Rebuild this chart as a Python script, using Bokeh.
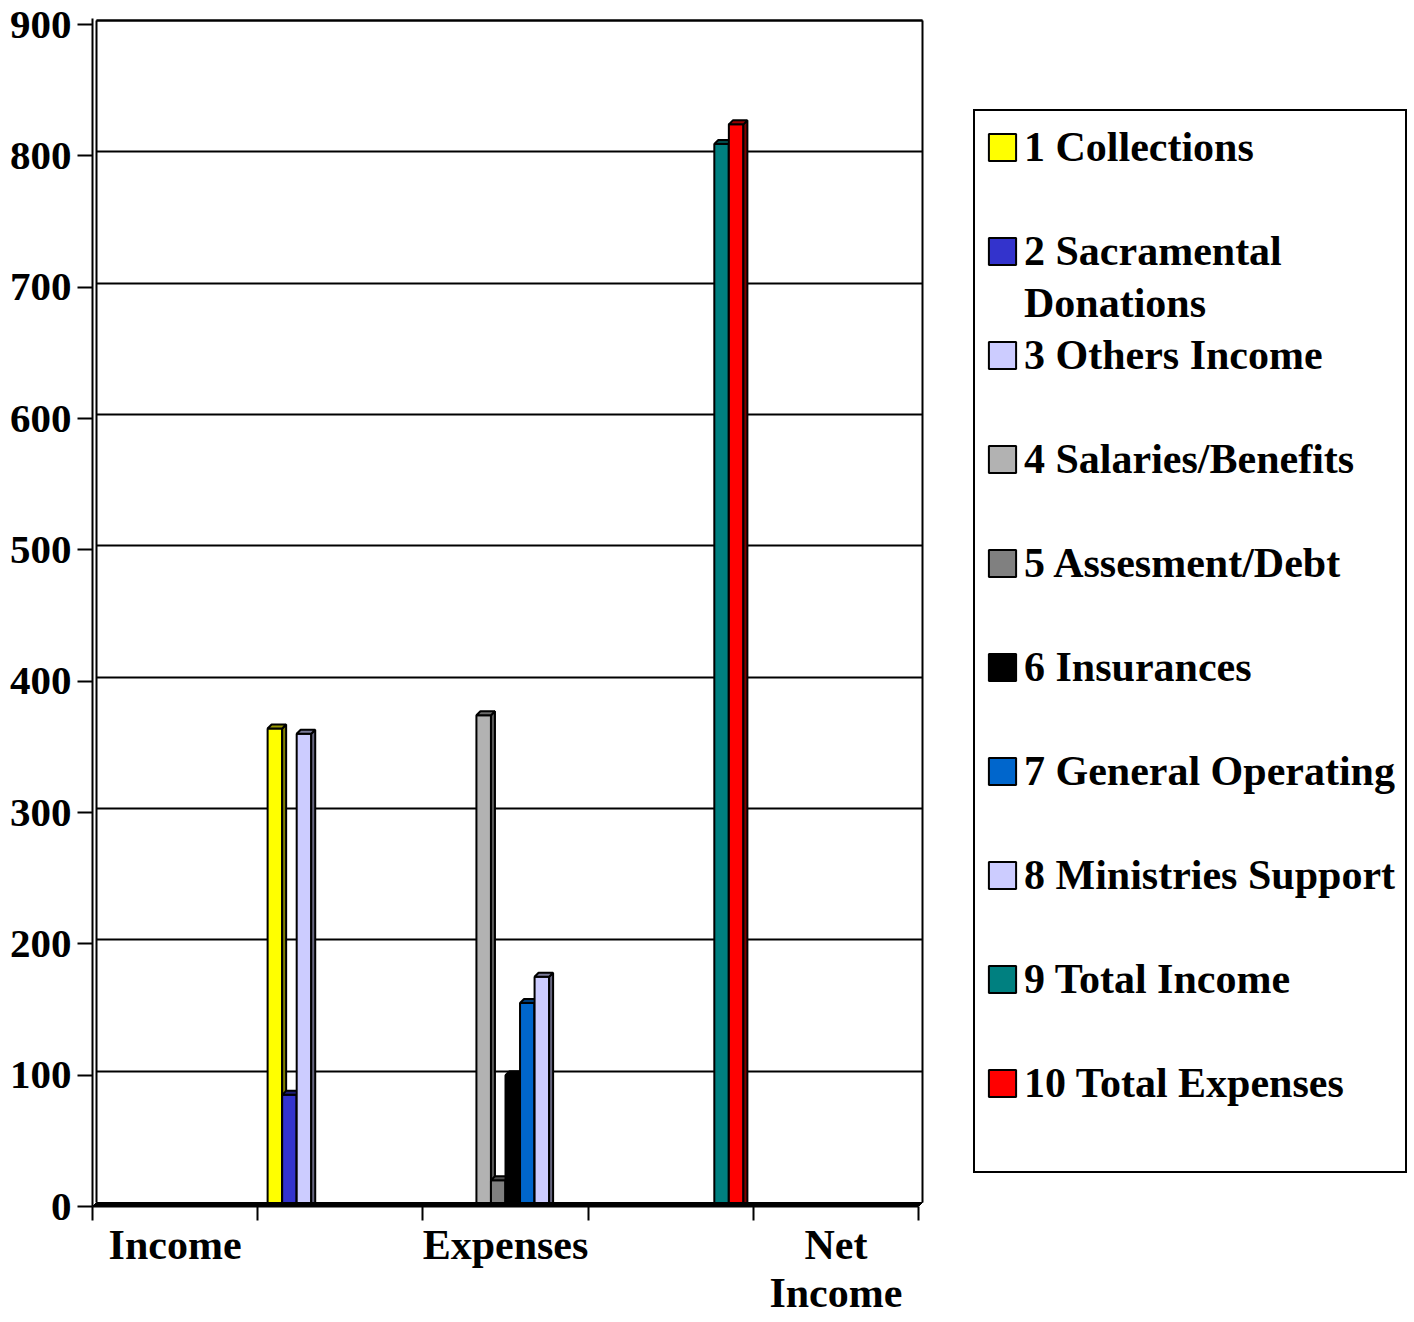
from bokeh.plotting import figure
from bokeh.models import (Range1d, LinearAxis, FixedTicker, Grid, Legend, LegendItem,
                          ColumnDataSource)
from bokeh.embed import file_html
from bokeh.resources import INLINE

# ---------------- data ----------------
category_labels = ["Income", "Expenses", "Net\nIncome"]   # shown under every other category slot
n_categories = 5
series_names = ["1 Collections", "2 Sacramental\nDonations", "3 Others Income",
                "4 Salaries/Benefits", "5 Assesment/Debt", "6 Insurances",
                "7 General Operating", "8 Ministries Support", "9 Total Income",
                "10 Total Expenses"]
series_colors = ["#FFFF00", "#3333CC", "#CCCCFF", "#B2B2B2", "#808080",
                 "#000000", "#0066CC", "#CCCCFF", "#008080", "#FF0000"]
collections      = [0, 364, 0, 0, 0]
sacramental      = [0, 85, 0, 0, 0]
others_income    = [0, 360, 0, 0, 0]
salaries         = [0, 0, 374, 0, 0]
assessment       = [0, 0, 20, 0, 0]
insurances       = [0, 0, 100, 0, 0]
general_oper     = [0, 0, 155, 0, 0]
ministries       = [0, 0, 175, 0, 0]
total_income     = [0, 0, 0, 809, 0]
total_expenses   = [0, 0, 0, 824, 0]
series_values = [collections, sacramental, others_income, salaries, assessment,
                 insurances, general_oper, ministries, total_income, total_expenses]
y_ticks = [0, 100, 200, 300, 400, 500, 600, 700, 800, 900]

# ---------------- geometry ----------------
PX_X = 165.2          # px per category
PX_Y = 1.3133         # px per value unit
W, H = 1412, 1320
LEFT, TOP = 92, 18
FRAME_W, FRAME_H = W - LEFT, 1188
DEPTH_PX = 4
DX = DEPTH_PX / PX_X
DY = DEPTH_PX / PX_Y
SLOT_W = 0.088
GROUP_GAP = (1 - SLOT_W * len(series_names)) / 2

FONT = "Liberation Serif"

p = figure(width=W, height=H, output_backend="svg", toolbar_location=None,
           x_range=Range1d(0, FRAME_W / PX_X),
           y_range=Range1d(-DY, (FRAME_H - DEPTH_PX) / PX_Y),
           x_axis_location=None, y_axis_location=None,
           min_border_left=LEFT, min_border_right=0,
           min_border_top=TOP, min_border_bottom=H - TOP - FRAME_H,
           outline_line_color=None, background_fill_color="white",
           border_fill_color="white")
p.extra_y_ranges = {"front": Range1d(0, FRAME_H / PX_Y)}
for g in list(p.grid):
    g.visible = False

xmax = n_categories

# y axis (front plane)
yaxis = LinearAxis(y_range_name="front", ticker=FixedTicker(ticks=y_ticks))
yaxis.axis_line_width = 2
yaxis.axis_line_color = "black"
yaxis.major_tick_out = 15
yaxis.major_tick_in = 0
yaxis.major_tick_line_width = 2
yaxis.minor_tick_out = 0
yaxis.minor_tick_in = 0
yaxis.major_label_standoff = 6
yaxis.major_label_text_font = FONT
yaxis.major_label_text_font_style = "bold"
yaxis.major_label_text_font_size = "41px"
yaxis.major_label_text_color = "black"
p.add_layout(yaxis, "left")

# x axis: tick marks at category boundaries, labels under every other category
label_pos = [2 * i + 0.5 for i in range(len(category_labels))]
xaxis = LinearAxis(ticker=FixedTicker(ticks=label_pos,
                                      minor_ticks=list(range(n_categories + 1))),
                   bounds=(0, xmax))
xaxis.major_label_overrides = {pos: lab for pos, lab in zip(label_pos, category_labels)}
xaxis.axis_line_width = 2
xaxis.axis_line_color = "black"
xaxis.major_tick_out = 0
xaxis.major_tick_in = 0
xaxis.minor_tick_out = 14
xaxis.minor_tick_in = 0
xaxis.minor_tick_line_width = 2
xaxis.minor_tick_line_color = "black"
xaxis.major_label_standoff = 1
xaxis.major_label_text_font = FONT
xaxis.major_label_text_font_style = "bold"
xaxis.major_label_text_font_size = "42px"
xaxis.major_label_text_color = "black"
xaxis.major_label_text_line_height = 1.06
p.add_layout(xaxis, "below")

# gridlines on back wall
p.add_layout(Grid(dimension=1, ticker=FixedTicker(ticks=y_ticks[1:]),
                  cross_bounds=(DX, xmax + DX),
                  grid_line_color="black", grid_line_width=2))

# walls
p.segment(x0=[DX, DX, xmax + DX], y0=[0, y_ticks[-1], 0],
          x1=[DX, xmax + DX, xmax + DX], y1=[y_ticks[-1], y_ticks[-1], y_ticks[-1]],
          line_color="black", line_width=2)


def shade(hexcol, f):
    r, g, b = int(hexcol[1:3], 16), int(hexcol[3:5], 16), int(hexcol[5:7], 16)
    return "#%02x%02x%02x" % (int(r * f), int(g * f), int(b * f))


legend_items = []
blank = p.vbar(x=[], top=[], width=0.1, fill_alpha=0, line_alpha=0)

for j, (name, col, vals) in enumerate(zip(series_names, series_colors, series_values)):
    xs, tops = [], []
    for c, v in enumerate(vals):
        if v:
            xs.append(c + GROUP_GAP + SLOT_W * (j + 0.5))
            tops.append(v)
    src = ColumnDataSource(dict(x=xs, top=tops))
    r = p.vbar(x="x", top="top", bottom=0, width=SLOT_W, source=src, y_range_name="front",
               fill_color=col, line_color="black", line_width=2)
    # 3D top and side faces
    top_xs, top_ys, side_xs, side_ys = [], [], [], []
    for x, v in zip(xs, tops):
        xl, xr = x - SLOT_W / 2, x + SLOT_W / 2
        top_xs.append([xl, xr, xr + DX, xl + DX])
        top_ys.append([v - DY, v - DY, v, v])
        side_xs.append([xr, xr + DX, xr + DX, xr])
        side_ys.append([-DY, 0, v, v - DY])
    p.patches(xs=side_xs, ys=side_ys, fill_color=shade(col, 0.5),
              line_color="black", line_width=2)
    p.patches(xs=top_xs, ys=top_ys, fill_color=shade(col, 0.6),
              line_color="black", line_width=2)
    lines = name.split("\n")
    legend_items.append(LegendItem(label=lines[0], renderers=[r]))
    legend_items.append(LegendItem(label=lines[1] if len(lines) > 1 else " ",
                                   renderers=[blank]))

# floor
p.patch(x=[0, xmax, xmax + DX, DX], y=[-DY, -DY, 0, 0],
        fill_color="black", line_color="black", line_width=1)

legend = Legend(items=legend_items, location=(881, 33),
                label_text_font=FONT, label_text_font_style="bold",
                label_text_font_size="42px", label_text_color="black",
                label_height=52, glyph_height=34, glyph_width=34,
                spacing=0, padding=10, margin=0, label_standoff=5,
                border_line_color="black", border_line_width=2, border_line_alpha=1,
                background_fill_color="white", background_fill_alpha=1)
p.add_layout(legend, "center")

open("out.html", "w").write(file_html(p, INLINE))
